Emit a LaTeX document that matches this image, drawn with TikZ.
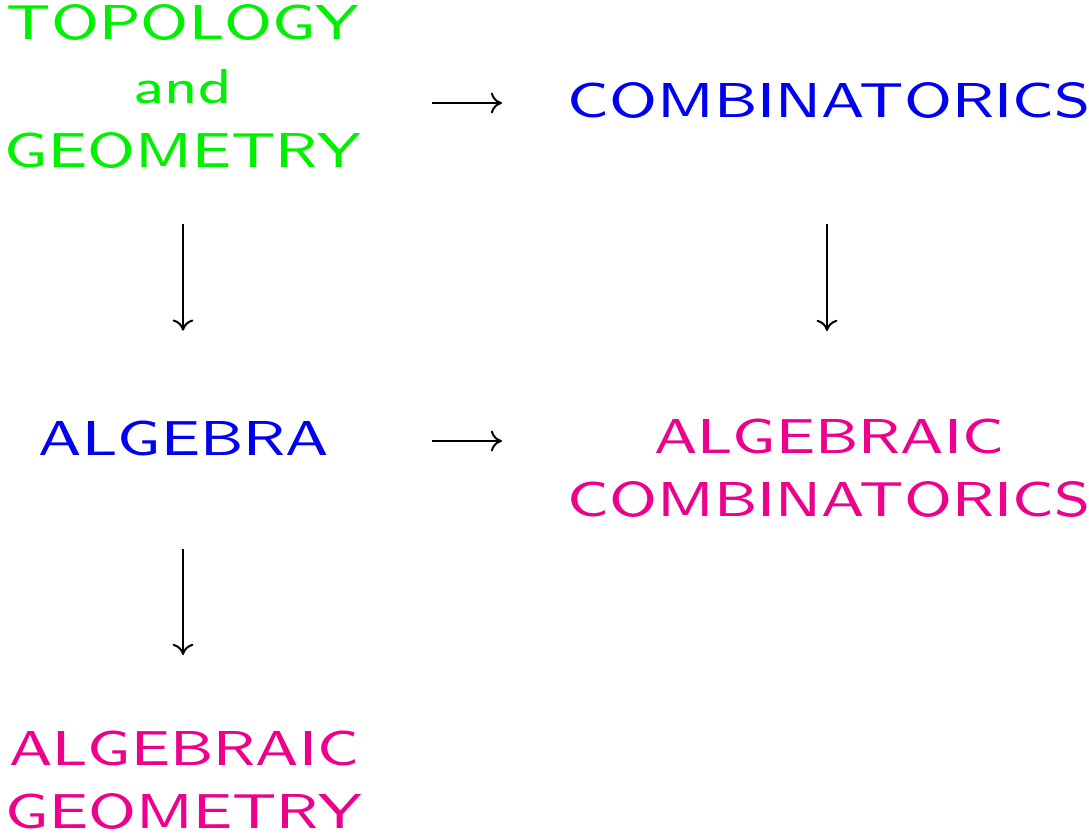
\documentclass[tikz,border=0pt]{standalone}
\usepackage{fontspec}
\usetikzlibrary{arrows.meta,calc}
\newfontfamily\slidefont[FakeStretch=1.25]{lmsans8-regular.otf}
\definecolor{tgreen}{RGB}{0,240,0}
\definecolor{tblue}{RGB}{0,0,240}
\definecolor{tpink}{RGB}{236,0,140}
\tikzset{
  lbl/.style={inner sep=0pt, align=center, font=\slidefont\fontsize{12.25pt}{15.9pt}\selectfont},
  arr/.style={line width=0.5pt, -{Computer Modern Rightarrow[length=2.8pt,width=5.2pt]}}
}
\begin{document}
\begin{tikzpicture}[x=0.25pt,y=-0.25pt]
\useasboundingbox (0,0) rectangle (1089,833);
\node[lbl, text=tgreen, anchor=north] (tg) at (183,4) {TOPOLOGY\\and\\GEOMETRY};
\node[lbl, text=tblue, anchor=base] (comb) at (829,118) {COMBINATORICS};
\node[lbl, text=tblue, anchor=base] (alg) at (184,455) {ALGEBRA};
\node[lbl, text=tpink, anchor=north] (ac) at (829,418) {ALGEBRAIC\\COMBINATORICS};
\node[lbl, text=tpink, anchor=north] (ag) at (184,730) {ALGEBRAIC\\GEOMETRY};
\draw[arr] ($(tg.center |- comb.base)+(249,-15)$) -- ($(comb.base)+(-327,-15)$);
\draw[arr] ($(alg.base)+(248,-14)$) -- ($(alg.base -| ac.center)+(-327,-14)$);
\draw[arr] ($(tg.south)+(0,55)$) -- ($(tg.south |- alg.north)+(0,-89)$);
\draw[arr] ($(comb.south)+(-2,104)$) -- ($(ac.north)+(-2,-87)$);
\draw[arr] ($(alg.south)+(-1,93)$) -- ($(ag.north)+(-1,-75)$);
\end{tikzpicture}
\end{document}
